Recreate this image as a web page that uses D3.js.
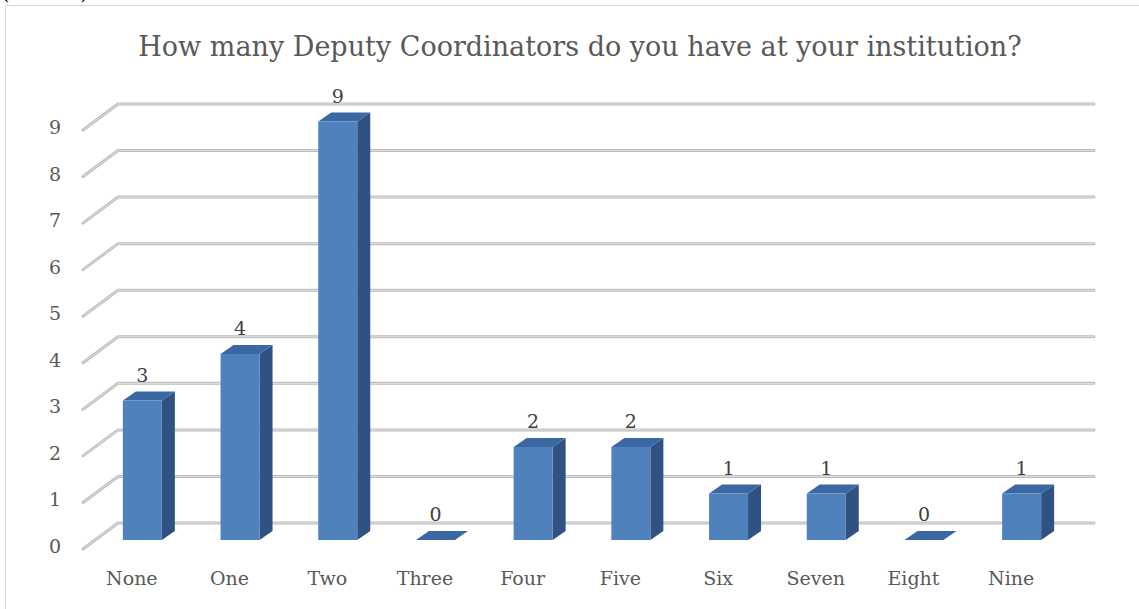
<!DOCTYPE html>
<html>
<head>
<meta charset="utf-8">
<script src="https://cdn.jsdelivr.net/npm/d3@7"></script>
<style>
  body { margin: 0; background: #fff; }
  text { font-family: "DejaVu Serif", "Liberation Serif", serif; fill: #595959; }
</style>
</head>
<body>
<div id="chart"></div>
<script>
var categories = ["None", "One", "Two", "Three", "Four", "Five", "Six", "Seven", "Eight", "Nine"];
var counts = [3, 4, 9, 0, 2, 2, 1, 1, 0, 1];
var yTicks = [0, 1, 2, 3, 4, 5, 6, 7, 8, 9];
var chartTitle = "How many Deputy Coordinators do you have at your institution?";

function drawChart() {
  var width = 1139, height = 609;
  // wall depth and bar depth (oblique 3D look)
  var wallDx = 35, wallDy = -26;
  var barDx = 13, barDy = -9;

  var svg = d3.select("#chart").append("svg")
    .attr("width", width)
    .attr("height", height);

  // stray bit of text cut off at the top of the page (as in the source)
  svg.append("text").attr("x", 1).attr("y", -1).style("fill", "#000")
    .style("font-size", "22px").text("(");
  svg.append("text").attr("x", 80).attr("y", -1).style("fill", "#000")
    .style("font-size", "22px").text(")");

  // chart border
  svg.append("rect")
    .attr("x", 5.5).attr("y", 5.5)
    .attr("width", 1140).attr("height", 610)
    .attr("fill", "none")
    .attr("stroke", "#d9d9d9")
    .attr("stroke-width", 1);

  svg.append("text")
    .attr("x", 580).attr("y", 46)
    .attr("text-anchor", "middle")
    .attr("dominant-baseline", "central")
    .style("font-size", "27px")
    .text(chartTitle);

  var x = d3.scaleBand().domain(categories).range([83, 1060]);
  var yWall = d3.scaleLinear().domain([0, 9]).range([523, 104]);
  var yBar = d3.scaleLinear().domain([0, 9]).range([540, 121.5]);

  // gridlines: slanted on the side wall then flat along the back wall
  var grid = svg.append("g");
  yTicks.forEach(function(t) {
    var yb = yWall(t);
    var d = "M" + (x.range()[0]) + "," + (yb - wallDy) +
            "L" + (x.range()[0] + wallDx) + "," + yb +
            "L" + (x.range()[1] + wallDx - 1) + "," + yb;
    grid.append("path").attr("d", d).attr("fill", "none")
      .attr("stroke", "#bcbcbc").attr("stroke-width", 3).attr("stroke-linecap", "round");
    grid.append("path").attr("d", d).attr("fill", "none")
      .attr("stroke", "#e2e2e2").attr("stroke-width", 1);
  });

  // y tick labels
  svg.append("g").selectAll("text")
    .data(yTicks).enter().append("text")
    .attr("x", 55)
    .attr("y", function(t) { return yWall(t) - wallDy - 3; })
    .attr("text-anchor", "middle")
    .attr("dominant-baseline", "central")
    .style("font-size", "19px")
    .text(function(t) { return t; });

  // category labels
  svg.append("g").selectAll("text")
    .data(categories).enter().append("text")
    .attr("x", function(c) { return x(c) + x.bandwidth() / 2; })
    .attr("y", 578)
    .attr("text-anchor", "middle")
    .attr("dominant-baseline", "central")
    .style("font-size", "19px")
    .text(function(c) { return c; });

  var bw = 39;
  var bars = svg.append("g").selectAll("g")
    .data(categories.map(function(c, i) { return { cat: c, val: counts[i] }; }))
    .enter().append("g");

  function left(d) { return x(d.cat) + x.bandwidth() / 2 - 9; }

  // side face
  bars.filter(function(d) { return d.val > 0; }).append("path")
    .attr("d", function(d) {
      var x0 = left(d) + bw, yt = yBar(d.val), yb = yBar(0);
      return "M" + x0 + "," + yb + "L" + x0 + "," + yt +
             "L" + (x0 + barDx) + "," + (yt + barDy) +
             "L" + (x0 + barDx) + "," + (yb + barDy) + "Z";
    })
    .attr("fill", "#2f5282");

  // top face
  bars.append("path")
    .attr("d", function(d) {
      var x0 = left(d), yt = yBar(d.val);
      return "M" + x0 + "," + yt + "L" + (x0 + barDx) + "," + (yt + barDy) +
             "L" + (x0 + bw + barDx) + "," + (yt + barDy) +
             "L" + (x0 + bw) + "," + yt + "Z";
    })
    .attr("fill", "#3b67a3");

  // front face
  bars.filter(function(d) { return d.val > 0; }).append("rect")
    .attr("x", left)
    .attr("y", function(d) { return yBar(d.val); })
    .attr("width", bw)
    .attr("height", function(d) { return yBar(0) - yBar(d.val); })
    .attr("fill", "#4f81bd");

  // value labels
  bars.append("text")
    .attr("x", function(d) { return left(d) + bw / 2; })
    .attr("y", function(d) { return yBar(d.val) + barDy - 17; })
    .attr("text-anchor", "middle")
    .attr("dominant-baseline", "central")
    .style("font-size", "19px")
    .style("fill", "#404040")
    .text(function(d) { return d.val; });
}

drawChart();
</script>
</body>
</html>
